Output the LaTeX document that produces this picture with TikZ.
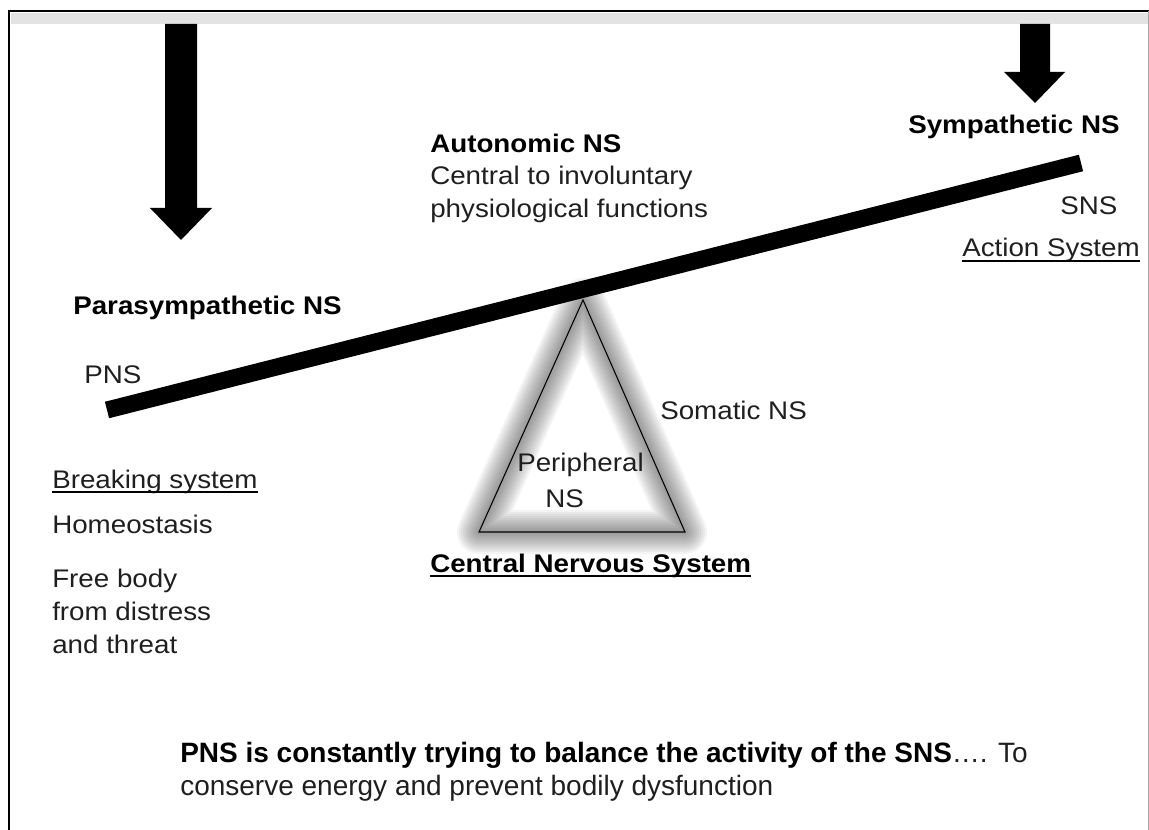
\documentclass[tikz,border=0pt]{standalone}
\usepackage{fontspec}
\setmainfont{Liberation Sans}[FakeStretch=1.09]
\newfontfamily\plainfont{Liberation Sans}
\newcommand\lblfont{\fontsize{19.1}{24.75}\selectfont}
\newcommand\btmfont{\plainfont\fontsize{21}{24.75}\selectfont}
\newcommand\ulnode[2][0.9pt]{\draw[line width=#1] ([yshift=-3pt]#2.base west) -- ([yshift=-3pt]#2.base east);}
\begin{document}
\begin{tikzpicture}[x=0.75pt,y=-0.75pt,
  lbl/.style={font=\lblfont, inner sep=0pt, anchor=base west, text=black!88},
  blbl/.style={font=\lblfont\bfseries, inner sep=0pt, anchor=base west, text=black},
  mlbl/.style={font=\lblfont, inner sep=0pt, anchor=north west, align=left, text=black!88},
  blockarrow/.style={fill=black},
  beam/.style={line width=12.75pt, black},
  tri/.style={draw=black, line width=0.8pt, line join=miter}]
\useasboundingbox (0,0) rectangle (1149,830);
% frame
\fill[gray!22] (11,13) rectangle (1149,24);
\draw[line width=1.5pt] (9,830) -- (9,11) -- (1149,11);
\draw[gray!70, line width=0.75pt] (1148.5,11) -- (1148.5,830);
% block arrows
\fill[blockarrow] (165,24) -- (197,24) -- (197,208) -- (212,208) -- (181,240) -- (150,208) -- (165,208) -- cycle;
\fill[blockarrow] (1020,24) -- (1050,24) -- (1050,72) -- (1065,72) -- (1035,103) -- (1004,72) -- (1020,72) -- cycle;
% triangle with glow
\coordinate (tA) at (583,300);
\coordinate (tB) at (479,532);
\coordinate (tC) at (685,532);
\foreach \w in {44,40,...,4}{
  \draw[black, opacity=0.045, line width=\w*0.75pt, line join=round] (tA) -- (tB) -- (tC) -- cycle;
}
\draw[tri] (tA) -- (tB) -- (tC) -- cycle;
% beam
\coordinate (beamL) at (107,410);
\coordinate (beamR) at (1081,163);
\draw[beam] (beamL) -- (beamR);
% labels
\node[blbl] (symp) at (908,134) {Sympathetic NS};
\node[lbl] (sns) at (1060,215) {SNS};
\node[lbl] (action) at (962,257) {Action System};
\ulnode{action}
\node[blbl] (auto) at (430,153) {Autonomic NS};
\node[mlbl] (autotxt) at (430,166) {Central to involuntary\\physiological functions};
\node[blbl] (para) at (73,315) {Parasympathetic NS};
\node[lbl] (pns) at (84,383) {PNS};
\node[lbl] (soma) at (660,419) {Somatic NS};
\node[lbl] (peri1) at (517,471) {Peripheral};
\node[lbl] (peri2) at (545,507) {NS};
\node[blbl] (cns) at (430,572) {Central Nervous System};
\ulnode[1.4pt]{cns}
\node[lbl] (brake) at (52,488) {Breaking system};
\ulnode{brake}
\node[lbl] (homeo) at (52,533) {Homeostasis};
\node[mlbl] (free) at (52,569) {Free body\\from distress\\and threat};
\node[inner sep=0pt, anchor=north west, align=left, font=\btmfont, text=black!88] (bottom) at (180,742)
  {\textbf{\color{black}PNS is constantly trying to balance the activity of the SNS}…. To\\conserve energy and prevent bodily dysfunction};
\end{tikzpicture}
\end{document}
